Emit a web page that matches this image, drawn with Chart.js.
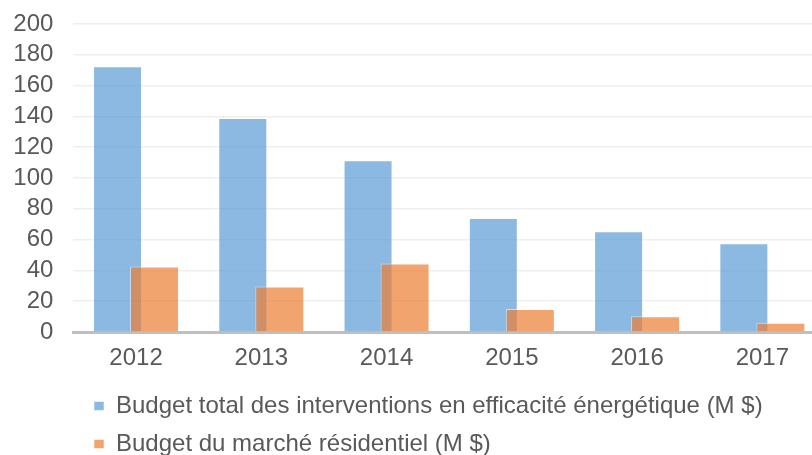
<!DOCTYPE html>
<html>
<head>
<meta charset="utf-8">
<script src="https://cdn.jsdelivr.net/npm/chart.js@4"></script>
<style>
  html, body { margin: 0; padding: 0; background: #fff; overflow: hidden; }
  #wrap { width: 825px; height: 466px; }
</style>
</head>
<body>
<div id="wrap"><canvas id="myChart" width="825" height="466"></canvas></div>
<script>
const annees = ['2012', '2013', '2014', '2015', '2016', '2017'];
const budgetTotal = [172.5, 139, 111.5, 74, 65.5, 57.7];   // M $
const budgetResidentiel = [42.5, 29.5, 44.5, 15, 10.3, 6];  // M $
const nomsSeries = [
    'Budget total des interventions en efficacité énergétique (M $)',
    'Budget du marché résidentiel (M $)'
];
const yMin = 0, yMax = 200, yPas = 20;

// décale la légende pour l'aligner sous le graphique
const decalerLegende = {
    id: 'decalerLegende',
    afterLayout(chart) {
        chart.legend.left = 80;
    }
};

// dessine la série orange par-dessus la bleue
const ordreDessin = {
    id: 'ordreDessin',
    beforeDatasetsDraw(chart) {
        for (let i = 0; i < chart.data.datasets.length; i++) {
            chart.getDatasetMeta(i).controller.draw();
        }
        return false;
    }
};

const police = "'Liberation Sans', Arial, Helvetica, sans-serif";

const ctx = document.getElementById('myChart').getContext('2d');
new Chart(ctx, {
    type: 'bar',
    data: {
        labels: annees,
        datasets: [{
            label: nomsSeries[0],
            data: budgetTotal,
            backgroundColor: 'rgba(91, 155, 213, 0.7)',
            borderColor: 'rgba(255, 255, 255, 0.5)',
            borderWidth: 1
        }, {
            label: nomsSeries[1],
            data: budgetResidentiel,
            backgroundColor: 'rgba(237, 125, 49, 0.7)',
            borderColor: 'rgba(255, 255, 255, 0.5)',
            borderWidth: 1
        }]
    },
    options: {
        responsive: false,
        animation: false,
        categoryPercentage: 0.591,
        barPercentage: 1.324,
        layout: { padding: { top: 24, right: 0, bottom: 0, left: 0 } },
        scales: {
            x: {
                grid: { display: false, drawTicks: false },
                border: { display: true, color: '#bfbfbf', width: 3 },
                ticks: { color: '#595959', font: { family: police, size: 24 }, padding: 12 },
                afterFit: s => { s.height = 48; }
            },
            y: {
                min: yMin,
                max: yMax,
                grid: { color: '#efefef', lineWidth: 1.5, drawTicks: false },
                border: { display: false },
                ticks: { stepSize: yPas, autoSkip: false, color: '#595959', font: { family: police, size: 24 }, padding: 20 },
                afterFit: s => { s.width = 73.4; s.paddingTop = 0; }
            }
        },
        plugins: {
            legend: {
                position: 'bottom',
                align: 'start',
                labels: {
                    boxWidth: 10,
                    boxHeight: 9,
                    padding: 14,
                    color: '#595959',
                    font: { family: police, size: 24 }
                }
            },
            tooltip: { enabled: false }
        }
    },
    plugins: [decalerLegende, ordreDessin]
});
</script>
</body>
</html>
